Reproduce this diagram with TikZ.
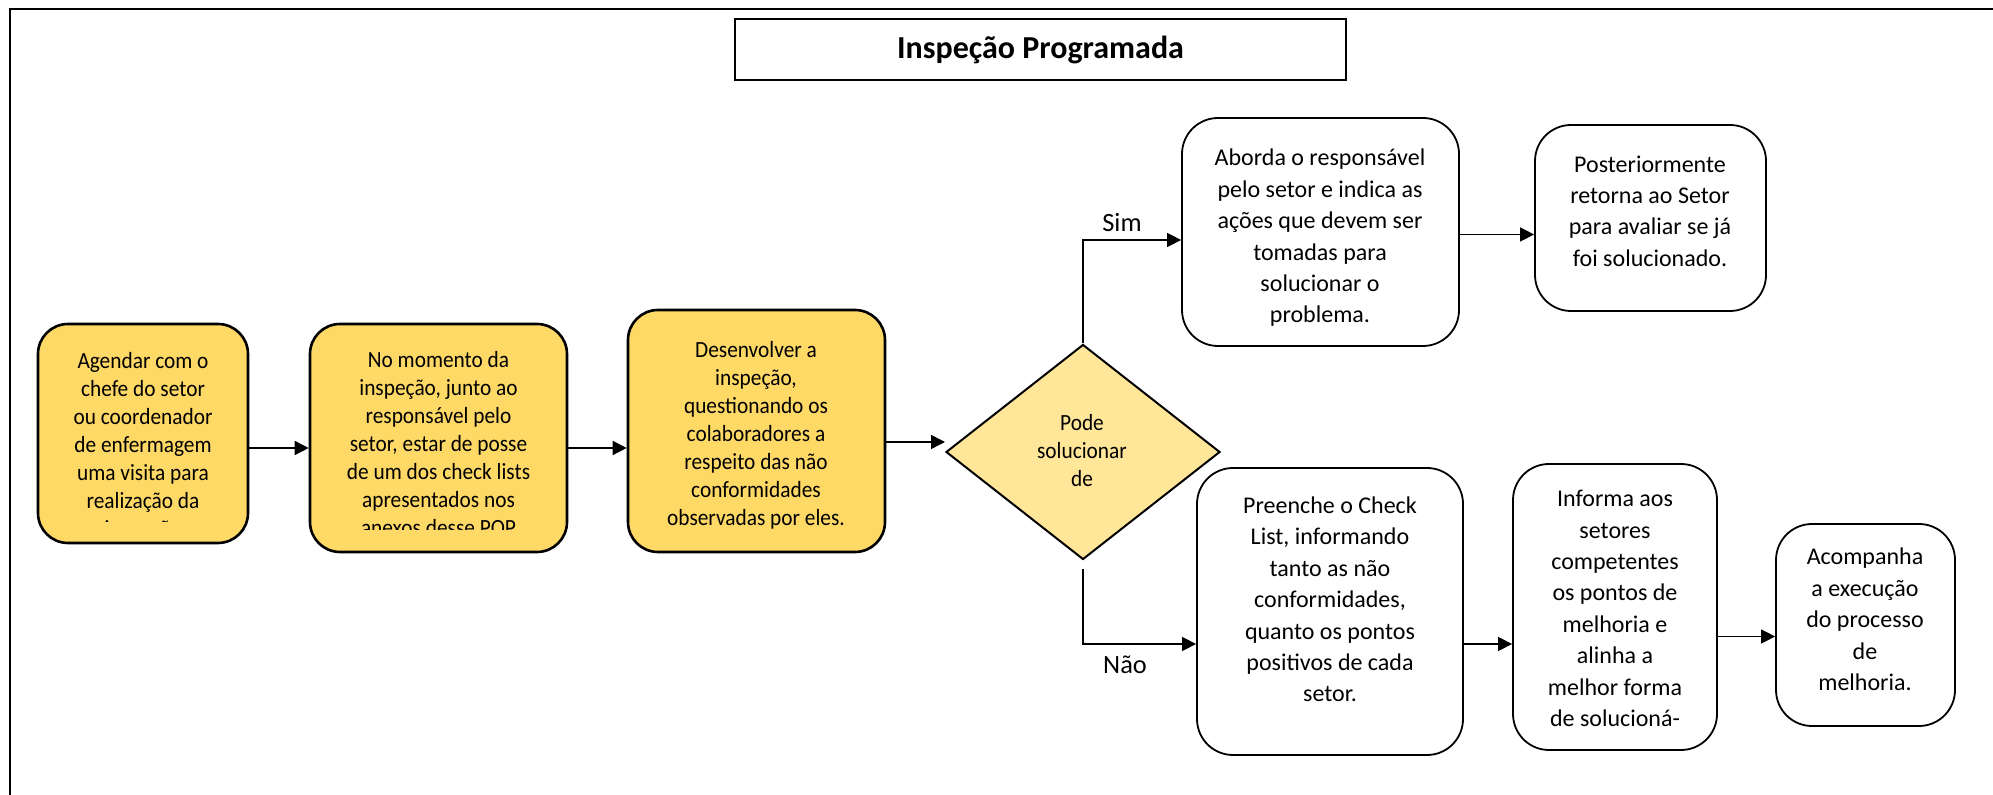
\documentclass[tikz,border=0pt]{standalone}
\usepackage{fontspec}
\setmainfont{Carlito}
\newfontfamily\condfont{Carlito}[FakeStretch=0.92]
\usetikzlibrary{arrows.meta,shapes.geometric}
\definecolor{boxyellow}{HTML}{FFD966}
\definecolor{diayellow}{HTML}{FFE699}
\begin{document}
\begin{tikzpicture}[x=0.5pt,y=-0.5pt,
  ybox/.style={draw=black, line width=1.3pt, fill=boxyellow, rounded corners=15pt, inner sep=0pt},
  wbox/.style={draw=black, line width=0.9pt, fill=white, rounded corners=18pt, inner sep=0pt},
  dbox/.style={diamond, draw=black, line width=1pt, fill=diayellow, inner sep=0pt},
  tbox/.style={draw=black, line width=1.1pt, fill=white, inner sep=0pt},
  ytxt/.style={align=center, inner sep=0pt, font=\condfont\fontsize{11.6}{14}\selectfont},
  txt/.style={align=center, inner sep=0pt, font=\fontsize{12}{15.7}\selectfont},
  lbl/.style={inner sep=0pt, font=\fontsize{13.2}{16}\selectfont},
  conn/.style={line width=0.75pt},
  arr/.style={conn, -{Triangle[length=7pt,width=7pt]}}]
\useasboundingbox (0,0) rectangle (1993,795);
% outer frame
\draw[line width=1.4pt] (10,810) -- (10,9) -- (2010,9);
% title
\node[tbox, minimum width=305.5pt, minimum height=30.5pt] (title) at (1040.5,49.5) {};
\node[inner sep=0pt, font=\fontsize{16}{19}\selectfont\bfseries] (titletxt) at (1040.5,49.5) {Inspeção Programada};
% boxes
\node[ybox, minimum width=105pt, minimum height=109.5pt] (b1) at (143,433.5) {};
\node[ybox, minimum width=128.5pt, minimum height=114pt] (b2) at (438.5,438) {};
\node[ybox, minimum width=128.5pt, minimum height=121pt] (b3) at (756.5,431) {};
\node[dbox, minimum width=137pt, minimum height=107.5pt] (dia) at (1083,452) {};
\node[wbox, minimum width=138.5pt, minimum height=114pt] (ab) at (1320.5,232) {};
\node[wbox, minimum width=115.5pt, minimum height=93pt] (po) at (1650.5,218) {};
\node[wbox, minimum width=133pt, minimum height=143.5pt] (pr) at (1330,611.5) {};
\node[wbox, minimum width=102pt, minimum height=143pt] (inf) at (1615,607) {};
\node[wbox, minimum width=89.5pt, minimum height=101pt] (ac) at (1865.5,625) {};
% texts
\coordinate (clip1) at (0,522);
\coordinate (clip2) at (0,530);
\begin{scope}
\clip (b1.north west) rectangle (b1.east |- clip1);
\node[ytxt] (t1) at (143,446.5) {Agendar com o\\chefe do setor\\ou coordenador\\de enfermagem\\uma visita para\\realização da\\inspeção};
\end{scope}
\begin{scope}
\clip (b2.north west) rectangle (b2.east |- clip2);
\node[ytxt] (t2) at (438.5,444) {No momento da\\inspeção, junto ao\\responsável pelo\\setor, estar de posse\\de um dos check lists\\apresentados nos\\anexos desse POP};
\end{scope}
\node[ytxt] (t3) at (756,435.5) {Desenvolver a\\inspeção,\\questionando os\\colaboradores a\\respeito das não\\conformidades\\observadas por eles.};
\node[ytxt] (td) at (1082,451) {Pode\\solucionar\\de};
\node[txt] (tab) at (1320,238) {Aborda o responsável\\pelo setor e indica as\\ações que devem ser\\tomadas para\\solucionar o\\problema.};
\node[txt] (tpo) at (1650,211) {Posteriormente\\retorna ao Setor\\para avaliar se já\\foi solucionado.};
\node[txt] (tpr) at (1330,599.5) {Preenche o Check\\List, informando\\tanto as não\\conformidades,\\quanto os pontos\\positivos de cada\\setor.};
\node[txt] (tinf) at (1615,608.5) {Informa aos\\setores\\competentes\\os pontos de\\melhoria e\\alinha a\\melhor forma\\de solucioná-};
\node[txt] (tac) at (1865,619.5) {Acompanha\\a execução\\do processo\\de\\melhoria.};
% connectors
\coordinate (y1) at (0,448);
\coordinate (y3) at (0,442);
\coordinate (ysim) at (0,240);
\coordinate (y5) at (0,234.5);
\coordinate (ynao) at (0,644);
\coordinate (y7) at (0,636.5);
\draw[arr] (b1.east |- y1) -- (b2.west |- y1);
\draw[arr] (b2.east |- y1) -- (b3.west |- y1);
\draw[arr] (b3.east |- y3) -- (dia.west |- y3);
\draw[arr] (dia.north) |- (ab.west |- ysim);
\draw[arr] (ab.east |- y5) -- (po.west |- y5);
\draw[arr] ([yshift=-4.5pt]dia.south) |- (pr.west |- ynao);
\draw[arr] (pr.east |- ynao) -- (inf.west |- ynao);
\draw[arr] (inf.east |- y7) -- (ac.west |- y7);
% labels
\node[lbl] (sim) at (1122,223) {Sim};
\node[lbl] (nao) at (1125,665) {Não};
\end{tikzpicture}
\end{document}
